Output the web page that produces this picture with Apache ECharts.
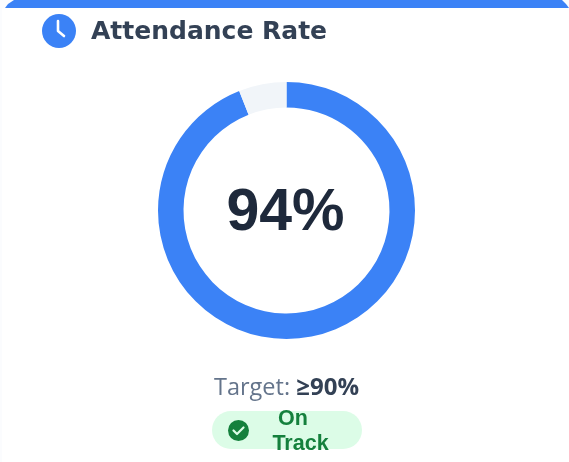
<!DOCTYPE html>
<html>
<head>
<meta charset="utf-8">
<style>
    html, body {margin: 0; padding: 0; background: #fff;}
    #chart {width: 569px; height: 462px;}
</style>
<script src="https://cdn.jsdelivr.net/npm/echarts@6/dist/echarts.min.js"></script>
</head>
<body>
<div id="chart"></div>
<script>
    const titleText = 'Attendance Rate';
    const sliceNames = ['Attendance', 'Remaining'];
    const sliceValues = [94, 6];
    const centerLabel = '94%';
    const targetLabel = 'Target: ';
    const targetValue = '≥90%';
    const statusLines = ['On', 'Track'];

    const chart = echarts.init(document.getElementById('chart'));

    chart.setOption({
        animation: false,
        backgroundColor: '#fff',
        series: [
            {
                type: 'pie',
                center: [286.5, 210.5],
                radius: [103, 128.5],
                startAngle: 90,
                clockwise: true,
                silent: true,
                label: {show: false},
                labelLine: {show: false},
                data: sliceNames.map((name, i) => ({
                    name: name,
                    value: sliceValues[i],
                    itemStyle: {color: i === 0 ? '#3b82f6' : '#f1f5f9'}
                }))
            }
        ],
        graphic: [
            // card top edge
            {type: 'rect', z: 0, shape: {x: 0, y: 0, width: 569, height: 8}, style: {fill: '#3b82f6'}},
            {type: 'polygon', z: 1, shape: {points: [[0, 0], [14, 0], [8, 4], [5, 8], [0, 8]]}, style: {fill: '#fbfcfe'}},
            {type: 'polygon', z: 1, shape: {points: [[569, 0], [562, 0], [566, 4], [569, 8]]}, style: {fill: '#fbfcfe'}},
            {type: 'rect', z: 1, shape: {x: 0, y: 8, width: 2, height: 454}, style: {fill: '#fbfcfe'}},
            // clock icon
            {type: 'circle', z: 2, shape: {cx: 59, cy: 31, r: 17}, style: {fill: '#3b82f6'}},
            {
                type: 'polyline', z: 3,
                shape: {points: [[58, 21], [58, 31], [64, 36]]},
                style: {stroke: '#fff', lineWidth: 2.6, fill: 'none', lineCap: 'round', lineJoin: 'round'}
            },
            {
                type: 'text', z: 3, x: 91, y: 32,
                style: {
                    text: titleText, fill: '#334155', fontFamily: 'DejaVu Sans',
                    fontSize: 25, fontWeight: 'bold', verticalAlign: 'middle'
                }
            },
            {
                type: 'text', z: 3, x: 285.5, y: 214,
                style: {
                    text: centerLabel, fill: '#1e293b', fontFamily: 'Liberation Sans',
                    fontSize: 59, fontWeight: 'bold', align: 'center', verticalAlign: 'middle'
                }
            },
            {
                type: 'text', z: 3, x: 214, y: 388,
                style: {
                    text: '{a|' + targetLabel + '}{b|' + targetValue + '}',
                    verticalAlign: 'middle',
                    rich: {
                        a: {fill: '#64748b', fontFamily: 'Open Sans', fontSize: 23.5},
                        b: {fill: '#334155', fontFamily: 'Open Sans', fontSize: 24, fontWeight: 'bold'}
                    }
                }
            },
            // status pill
            {type: 'rect', z: 2, shape: {x: 212, y: 411, width: 150, height: 38, r: 19}, style: {fill: '#dcfce7'}},
            {type: 'circle', z: 3, shape: {cx: 238.5, cy: 430.5, r: 10.5}, style: {fill: '#15803d'}},
            {
                type: 'polyline', z: 4,
                shape: {points: [[233.5, 430.5], [237, 434], [243.5, 427.5]]},
                style: {stroke: '#dcfce7', lineWidth: 2.2, fill: 'none', lineCap: 'round', lineJoin: 'round'}
            },
            {
                type: 'text', z: 3, x: 293, y: 419,
                style: {
                    text: statusLines[0], fill: '#15803d', fontFamily: 'Liberation Sans',
                    fontSize: 21.5, fontWeight: 'bold', align: 'center', verticalAlign: 'middle'
                }
            },
            {
                type: 'text', z: 3, x: 300.5, y: 444,
                style: {
                    text: statusLines[1], fill: '#15803d', fontFamily: 'Liberation Sans',
                    fontSize: 21.5, fontWeight: 'bold', align: 'center', verticalAlign: 'middle'
                }
            }
        ]
    });
</script>
</body>
</html>
